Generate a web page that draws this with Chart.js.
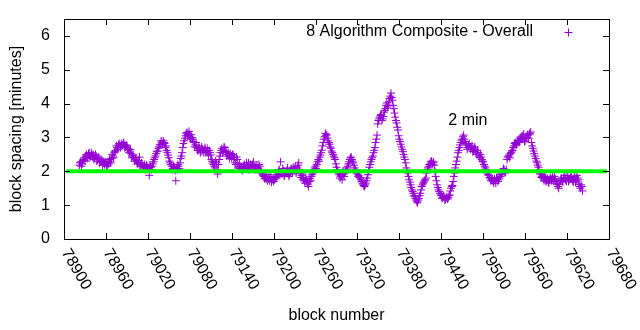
<!DOCTYPE html>
<html lang="en">
<head>
    <meta charset="UTF-8">
    <title>Block spacing</title>
    <style>
        body { margin: 0; background: #fff; }
        #wrap { width: 640px; height: 330px; }
    </style>
</head>
<body>
    <div id="wrap"><canvas id="spacing-chart" width="640" height="330"></canvas></div>
    <script src="https://cdn.jsdelivr.net/npm/chart.js@4.4.1/dist/chart.umd.min.js"></script>
    <script>
        // block spacing in minutes: even blocks and odd blocks
        const firstEvenBlock = 78922;
        const firstOddBlock = 78923;
        const blockStep = 2;
        const spacingEven = [
            2.18, 2.28, 2.22, 2.35, 2.30, 2.50, 2.42, 2.55, 2.45, 2.50,
            2.48, 2.40, 2.45, 2.35, 2.38, 2.28, 2.32, 2.25, 2.20, 2.28,
            2.18, 2.22, 2.30, 2.38, 2.45, 2.55, 2.62, 2.70, 2.78, 2.75,
            2.82, 2.78, 2.80, 2.72, 2.75, 2.65, 2.60, 2.52, 2.45, 2.40,
            2.35, 2.30, 2.25, 2.42, 2.20, 2.18, 2.15, 2.12, 2.18, 2.10,
            1.88, 2.12, 2.15, 2.28, 2.40, 2.52, 2.60, 2.72, 2.80, 2.85,
            2.90, 2.82, 2.75, 2.55, 2.40, 2.25, 2.15, 2.08, 2.12, 1.72,
            2.05, 2.15, 2.25, 2.45, 2.70, 2.90, 3.05, 3.15, 3.10, 3.02,
            3.08, 2.95, 2.85, 2.78, 2.70, 2.62, 2.68, 2.58, 2.65, 2.55,
            2.70, 2.60, 2.55, 2.62, 2.48, 2.30, 2.20, 2.10, 2.25, 1.92,
            2.35, 2.55, 2.68, 2.62, 2.70, 2.58, 2.50, 2.45, 2.52, 2.40,
            2.48, 2.42, 2.20, 2.35, 2.15, 2.08, 2.12, 2.05, 2.20, 2.10,
            2.18, 2.25, 2.10, 2.15, 2.20, 2.05, 2.12, 2.18, 2.08, 2.15,
            2.00, 1.92, 1.85, 1.80, 1.78, 1.90, 1.72, 1.82, 1.75, 1.70,
            1.78, 1.85, 1.95, 2.05, 2.28, 1.92, 2.02, 1.88, 1.95, 2.10,
            1.85, 1.98, 2.05, 2.12, 2.02, 1.95, 2.10, 2.25, 1.95, 1.88,
            1.75, 1.72, 1.80, 1.68, 1.55, 1.78, 1.85, 1.95, 2.05, 2.15,
            2.20, 2.35, 2.42, 2.55, 2.75, 2.95, 3.12, 3.08, 2.90, 2.80,
            2.68, 2.55, 2.45, 2.35, 2.12, 2.00, 1.90, 1.85, 1.75, 1.92,
            1.95, 2.05, 2.15, 2.28, 2.40, 2.35, 2.25, 2.10, 2.00, 1.92,
            1.88, 1.80, 1.70, 1.62, 1.55, 1.65, 1.80, 2.00, 2.20, 2.35,
            2.45, 2.62, 2.85, 3.07, 3.50, 3.60, 3.68, 3.55, 3.75, 3.85,
            4.02, 3.95, 4.15, 4.31, 4.10, 3.85, 3.60, 3.43, 3.22, 2.95,
            2.80, 2.65, 2.50, 2.35, 2.10, 1.95, 1.75, 1.60, 1.45, 1.35,
            1.25, 1.15, 1.07, 1.20, 1.35, 1.55, 1.65, 1.72, 1.80, 2.05,
            2.15, 2.22, 2.30, 2.25, 2.18, 1.85, 1.60, 1.45, 1.35, 1.28,
            1.22, 1.25, 1.18, 1.25, 1.22, 1.30, 1.50, 1.58, 1.85, 2.10,
            2.30, 2.55, 2.70, 2.85, 2.95, 3.07, 2.88, 2.78, 2.70, 2.82,
            2.65, 2.75, 2.60, 2.72, 2.55, 2.62, 2.45, 2.50, 2.35, 2.28,
            2.15, 2.05, 1.95, 1.88, 1.80, 1.75, 1.70, 1.78, 1.65, 1.82,
            1.75, 1.85, 1.92, 2.00, 2.05, 1.98, 2.35, 2.45, 2.40, 2.55,
            2.62, 2.75, 2.85, 2.80, 2.92, 2.88, 2.95, 3.05, 3.10, 2.90,
            2.98, 3.05, 3.12, 3.16, 2.75, 2.60, 2.45, 2.30, 2.18, 2.05,
            1.95, 1.85, 1.78, 1.85, 1.70, 1.78, 1.65, 1.82, 1.72, 1.78,
            1.85, 1.70, 1.62, 1.50, 1.72, 1.80, 1.68, 1.88, 1.75, 1.82,
            1.70, 1.78, 1.85, 1.72, 1.80, 1.68, 1.88, 1.75, 1.55, 1.60, 1.42
        ];
        const spacingOdd = [
            2.25, 2.15, 2.32, 2.40, 2.45, 2.38, 2.52, 2.40, 2.55, 2.42,
            2.35, 2.50, 2.30, 2.42, 2.25, 2.35, 2.18, 2.30, 2.25, 2.15,
            2.28, 2.35, 2.25, 2.50, 2.40, 2.58, 2.75, 2.65, 2.82, 2.70,
            2.75, 2.85, 2.70, 2.78, 2.68, 2.55, 2.65, 2.40, 2.48, 2.30,
            2.40, 2.22, 2.32, 2.15, 2.25, 2.10, 2.20, 2.05, 2.15, 2.08,
            2.18, 2.05, 2.22, 2.35, 2.45, 2.58, 2.68, 2.78, 2.90, 2.80,
            2.85, 2.70, 2.62, 2.48, 2.30, 2.20, 2.05, 2.15, 2.02, 2.10,
            2.20, 2.08, 2.38, 2.55, 2.82, 2.98, 3.12, 3.05, 3.18, 2.95,
            3.00, 2.88, 2.72, 2.85, 2.62, 2.75, 2.55, 2.72, 2.60, 2.65,
            2.55, 2.68, 2.48, 2.55, 2.35, 2.25, 2.15, 2.30, 2.05, 2.20,
            2.45, 2.62, 2.55, 2.72, 2.60, 2.45, 2.55, 2.38, 2.45, 2.50,
            2.35, 2.25, 2.42, 2.10, 2.22, 2.15, 2.02, 2.15, 2.08, 2.25,
            2.12, 2.05, 2.20, 2.10, 2.28, 2.15, 2.05, 2.10, 2.20, 2.02,
            1.95, 1.88, 1.78, 1.85, 1.72, 1.80, 1.85, 1.68, 1.80, 1.75,
            1.82, 1.90, 2.00, 1.88, 1.98, 2.08, 1.85, 1.95, 2.02, 1.90,
            1.92, 2.08, 1.95, 2.05, 2.15, 2.00, 2.18, 2.05, 1.82, 1.92,
            1.80, 1.65, 1.75, 1.62, 1.70, 1.72, 1.90, 2.00, 2.10, 2.08,
            2.28, 2.30, 2.48, 2.62, 2.85, 3.02, 3.05, 2.98, 2.85, 2.72,
            2.60, 2.50, 2.40, 2.22, 2.05, 1.95, 1.80, 1.88, 2.00, 1.85,
            2.00, 2.10, 2.22, 2.35, 2.42, 2.30, 2.18, 2.05, 1.95, 1.85,
            1.82, 1.75, 1.65, 1.58, 1.60, 1.72, 1.90, 2.12, 2.28, 2.40,
            2.55, 2.70, 2.95, 3.40, 3.55, 3.65, 3.50, 3.62, 3.80, 3.95,
            3.90, 4.05, 4.22, 4.18, 3.95, 3.72, 3.50, 3.30, 3.05, 2.88,
            2.72, 2.58, 2.42, 2.25, 2.00, 1.85, 1.68, 1.52, 1.40, 1.28,
            1.20, 1.10, 1.15, 1.28, 1.45, 1.60, 1.68, 1.75, 1.95, 2.10,
            2.20, 2.28, 2.20, 2.28, 2.00, 1.72, 1.52, 1.40, 1.30, 1.20,
            1.28, 1.15, 1.22, 1.18, 1.28, 1.42, 1.55, 1.70, 1.95, 2.20,
            2.42, 2.62, 2.78, 2.92, 3.02, 2.95, 2.82, 2.65, 2.78, 2.72,
            2.72, 2.58, 2.68, 2.62, 2.50, 2.55, 2.40, 2.42, 2.30, 2.20,
            2.10, 2.00, 1.90, 1.82, 1.72, 1.78, 1.65, 1.72, 1.80, 1.70,
            1.80, 1.90, 1.98, 2.08, 1.95, 2.05, 2.42, 2.48, 2.52, 2.60,
            2.70, 2.82, 2.78, 2.90, 2.85, 2.98, 3.02, 2.95, 2.88, 3.00,
            3.08, 2.98, 3.10, 2.85, 2.68, 2.52, 2.38, 2.25, 2.12, 1.92,
            1.82, 1.90, 1.72, 1.80, 1.75, 1.68, 1.75, 1.78, 1.85, 1.70,
            1.78, 1.65, 1.55, 1.62, 1.75, 1.72, 1.80, 1.82, 1.70, 1.88,
            1.75, 1.82, 1.78, 1.68, 1.85, 1.72, 1.80, 1.62, 1.50, 1.55
        ];
        const targetMinutes = 2;
        const targetRange = [78903, 79677];
        const xTicks = [78900, 78960, 79020, 79080, 79140, 79200, 79260, 79320, 79380, 79440, 79500, 79560, 79620, 79680];
        const yTicks = [0, 1, 2, 3, 4, 5, 6];
        const seriesLabel = '8 Algorithm Composite - Overall';
        const noteText = '2 min';
        const notePos = { x: 79450, y: 3.5 };

        const FONT = '16px "Liberation Sans", Arial, sans-serif';
        const PURPLE = '#9400d3';

        const points = [];
        spacingEven.forEach((v, i) => points.push({ x: firstEvenBlock + i * blockStep, y: v }));
        spacingOdd.forEach((v, i) => points.push({ x: firstOddBlock + i * blockStep, y: v }));

        // gnuplot style frame, inward ticks, rotated x labels and key
        const frame = {
            id: 'frame',
            afterDraw(chart) {
                const ctx = chart.ctx;
                const a = chart.chartArea;
                const xs = chart.scales.x, ys = chart.scales.y;
                ctx.save();
                ctx.strokeStyle = '#000';
                ctx.lineWidth = 1;
                ctx.strokeRect(a.left + 0.5, a.top + 0.5, a.right - a.left, a.bottom - a.top);
                ctx.beginPath();
                xTicks.forEach(t => {
                    const x = Math.round(xs.getPixelForValue(t)) + 0.5;
                    ctx.moveTo(x, a.bottom); ctx.lineTo(x, a.bottom - 6);
                    ctx.moveTo(x, a.top); ctx.lineTo(x, a.top + 6);
                });
                yTicks.forEach(t => {
                    const y = Math.round(ys.getPixelForValue(t)) + 0.5;
                    ctx.moveTo(a.left, y); ctx.lineTo(a.left + 6, y);
                    ctx.moveTo(a.right, y); ctx.lineTo(a.right - 6, y);
                });
                ctx.stroke();

                ctx.fillStyle = '#000';
                ctx.font = FONT;
                ctx.textAlign = 'right';
                ctx.textBaseline = 'middle';
                yTicks.forEach(t => ctx.fillText(String(t), a.left - 14, ys.getPixelForValue(t)));

                ctx.textAlign = 'left';
                xTicks.forEach(t => {
                    ctx.save();
                    ctx.translate(xs.getPixelForValue(t) + 1, a.bottom + 11);
                    ctx.rotate(Math.PI / 3);
                    ctx.fillText(String(t), 0, 0);
                    ctx.restore();
                });

                ctx.textAlign = 'center';
                ctx.fillText('block number', (a.left + a.right) / 2, 316);
                ctx.save();
                ctx.translate(17, (a.top + a.bottom) / 2);
                ctx.rotate(-Math.PI / 2);
                ctx.fillText('block spacing [minutes]', 0, 0);
                ctx.restore();

                // key
                ctx.textAlign = 'right';
                ctx.fillText(seriesLabel, a.right - 76, a.top + 13);
                ctx.strokeStyle = PURPLE;
                ctx.beginPath();
                const kx = a.right - 40.5, ky = a.top + 13.5;
                ctx.moveTo(kx - 4, ky); ctx.lineTo(kx + 4, ky);
                ctx.moveTo(kx, ky - 4); ctx.lineTo(kx, ky + 4);
                ctx.stroke();

                ctx.textAlign = 'left';
                ctx.fillText(noteText, xs.getPixelForValue(notePos.x), ys.getPixelForValue(notePos.y));
                ctx.restore();
            }
        };

        new Chart(document.getElementById('spacing-chart'), {
            type: 'scatter',
            data: {
                datasets: [{
                    type: 'line',
                    label: noteText,
                    data: [{ x: targetRange[0], y: targetMinutes }, { x: targetRange[1], y: targetMinutes }],
                    borderColor: '#00ff00',
                    borderWidth: 4,
                    borderCapStyle: 'butt',
                    pointRadius: 0,
                    order: 0
                }, {
                    label: seriesLabel,
                    data: points,
                    pointStyle: 'cross',
                    pointRadius: 4,
                    borderColor: PURPLE,
                    backgroundColor: PURPLE,
                    borderWidth: 1,
                    order: 1
                }]
            },
            options: {
                responsive: false,
                animation: false,
                layout: { padding: { left: 64, right: 31, top: 19, bottom: 91 } },
                plugins: { legend: { display: false }, tooltip: { enabled: false } },
                scales: {
                    x: { type: 'linear', min: xTicks[0], max: xTicks[xTicks.length - 1], display: false },
                    y: { min: 0, max: 6.5, display: false }
                }
            },
            plugins: [frame]
        });
    </script>
</body>
</html>
